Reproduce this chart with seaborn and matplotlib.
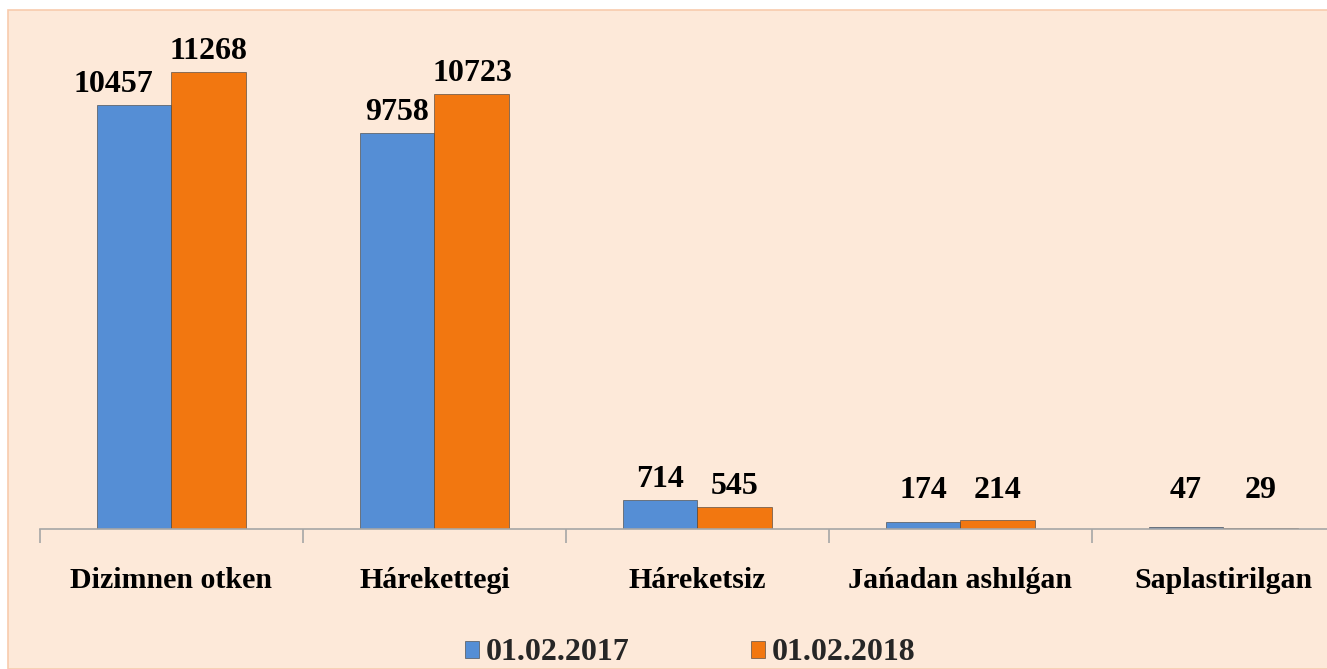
import matplotlib
matplotlib.use("Agg")
import matplotlib.pyplot as plt
import seaborn as sns
import pandas as pd
from matplotlib.patches import Rectangle

categories = ["Dizimnen otken", "Hárekettegi", "Háreketsiz", "Jańadan ashılǵan", "Saplastirilgan"]
series_names = ["01.02.2017", "01.02.2018"]
values_2017 = [10457, 9758, 714, 174, 47]
values_2018 = [11268, 10723, 545, 214, 29]
colors = ["#558ED5", "#F27710"]

df = pd.DataFrame({
    "category": categories * 2,
    "series": [series_names[0]] * len(categories) + [series_names[1]] * len(categories),
    "value": values_2017 + values_2018,
})

sns.set_theme(style="white")
plt.rcParams["font.family"] = ["Liberation Serif", "DejaVu Serif"]
plt.rcParams["font.weight"] = "bold"

W, H = 1327, 669
fig = plt.figure(figsize=(W / 100, H / 100), dpi=100)
fig.patch.set_facecolor("white")
# chart area background
fig.patches.append(Rectangle((8 / W, 0), 1.0, (H - 10) / H, transform=fig.transFigure,
                             facecolor="#FDE9D9", edgecolor="#F8CBAD", linewidth=1.2, zorder=-10))

cat_w = 263.0
left_px, bottom_px, top_px = 40, 529, 10
ax = fig.add_axes([left_px / W, (H - bottom_px) / H, (W - left_px) / W, (bottom_px - top_px) / H])
ax.set_zorder(5)
ax.set_facecolor("none")
ax.patch.set_alpha(0)

sns.barplot(data=df, x="category", y="value", hue="series", palette=colors, width=0.57,
            saturation=1, ax=ax, legend=True, order=categories, hue_order=series_names)

for patch in ax.patches:
    patch.set_edgecolor("#3A3A3A")
    patch.set_linewidth(0.4)

for s in ["top", "right", "left"]:
    ax.spines[s].set_visible(False)
ax.spines["bottom"].set_color("#A6A6A6")
ax.spines["bottom"].set_linewidth(1.2)
ax.set_yticks([])
ax.set_xlabel("")
ax.set_ylabel("")

ax.set_xticks([i - 0.5 for i in range(len(categories) + 1)])
ax.set_xticklabels([])
ax.tick_params(axis="x", which="major", direction="out", length=10, width=1.2, color="#A6A6A6", bottom=True)
ax.set_xticks(range(len(categories)), minor=True)
ax.set_xticklabels(categories, minor=True, fontsize=21.5, fontweight="bold", color="black")
ax.tick_params(axis="x", which="minor", length=0, pad=27, bottom=True)

xmin = -0.5
xmax = xmin + (W - left_px) / cat_w
ax.set_xlim(xmin, xmax)
ymax = 11268 * (bottom_px - top_px) / (529 - 72)
ax.set_ylim(0, ymax)

# value labels
px_per_unit = (bottom_px - top_px) / ymax
fig.canvas.draw()
renderer = fig.canvas.get_renderer()
conts = ax.containers
for ci, container in enumerate(conts):
    for bi, bar in enumerate(container):
        h = bar.get_height()
        x = bar.get_x() + bar.get_width() / 2
        off = max(6, 24 - h * px_per_unit)
        t = ax.annotate(f"{int(round(h))}", (x, h), xytext=(0, off), textcoords="offset pixels",
                        ha="center", va="bottom", fontsize=23, fontweight="bold", color="black")
        if ci == 0 and len(conts) > 1:
            nb = conts[1][bi]
            bb = t.get_window_extent(renderer)
            nb_bb = nb.get_window_extent(renderer)
            if bb.x1 > nb_bb.x0 and bb.y0 < nb_bb.y1:
                shift = bb.x1 - (nb_bb.x0 - 18)
                t.set_position((0 - shift, off))

handles, labels = ax.get_legend_handles_labels()
if ax.get_legend() is not None:
    ax.get_legend().remove()
fig.legend(handles, labels, loc="center", bbox_to_anchor=(690 / W, 16 / H), ncol=2,
           frameon=False, prop={"weight": "bold", "size": 23},
           handlelength=0.45, handleheight=0.45, handletextpad=0.2, columnspacing=3.8)

fig.savefig("out.png", dpi=100)
